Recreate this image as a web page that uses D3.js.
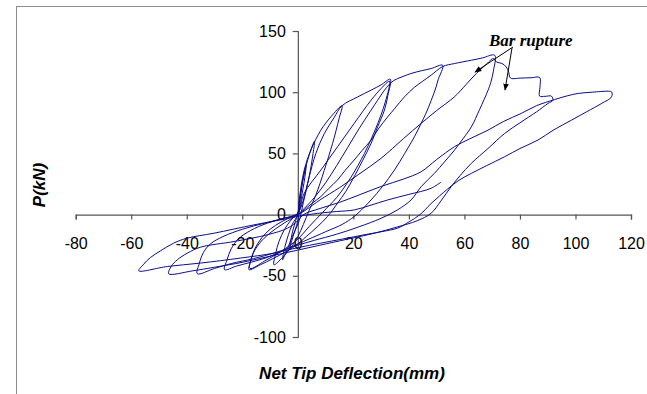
<!DOCTYPE html>
<html>
<head>
<meta charset="utf-8">
<script src="https://cdn.jsdelivr.net/npm/d3@7"></script>
<style>
  html, body { margin: 0; padding: 0; background: #fff; }
  svg { display: block; }
</style>
</head>
<body>
<div id="container"></div>
<script>
// tick values
const xTicks = [-80, -60, -40, -20, 0, 20, 40, 60, 80, 100, 120];
const yTicks = [-100, -50, 0, 50, 100, 150];

// load-deflection record, split per cycle [deflection mm, load kN]
const warmUp = [
  [0, 0], [1.5, 25], [3, 40], [2.5, 30], [1, 10], [0, -5], [-2, -20], [-3, -28],
  [-2, -15], [-0.5, -3], [0, 0], [2, 30], [4, 48], [6, 60], [5.5, 50], [4, 30],
  [2, 10], [0.5, -5], [-2, -18], [-4.5, -32], [-5.5, -37], [-4.5, -25], [-2, -8], [0, 0]
];
const cycle1 = [
  [0.5, 12], [2.3, 36.4], [4.7, 52.7], [8.3, 69], [11.9, 79.9], [15.9, 88.9],
  [14.8, 78], [12.5, 58], [9.5, 36], [6.5, 16], [4, 3], [2, -8], [0, -18], [-2.5, -27],
  [-5.5, -35], [-8.6, -41], [-8, -32], [-6.8, -22], [-5, -13], [-3, -6], [-1, -1], [0.5, 3]
];
const cycle2 = [
  [2, 12], [4, 30], [6.5, 50], [9.5, 66], [13, 79], [15.9, 88.9], [21.6, 96.2],
  [26.4, 101.7], [30, 106], [33.3, 110.6], [32.4, 97], [31.2, 85.4], [28.8, 72],
  [26.4, 58.2], [23.3, 44], [20.3, 31], [17.3, 19], [14.3, 9.3], [10.7, -1.6], [7, -10],
  [3, -18], [0, -24], [-4, -30], [-9, -36], [-13.5, -41], [-17.6, -45], [-17, -38],
  [-15.5, -28], [-13, -19], [-10, -12], [-6, -6], [-2.5, -2], [0, 1]
];
const cycle2b = [
  [2.3, 17.4], [8.3, 36.4], [14.3, 55.4], [20.3, 74.5], [26.4, 93.5], [30, 103],
  [33, 109], [31.5, 92], [28, 70], [24, 50], [19, 30], [14, 14], [9, 2], [4, -10],
  [0, -20], [-6, -30], [-12, -38], [-17.2, -44], [-16.5, -34], [-14, -24], [-10, -15],
  [-5, -7], [0, 0]
];
const cycle3 = [
  [2.3, 5], [6, 14], [10, 26], [14, 40], [18, 55], [22, 70], [26, 84], [29.5, 96],
  [32, 104], [34.5, 109.5], [37.5, 112.5], [40.8, 115.3], [44.5, 117.5], [48, 119.3],
  [52.2, 122], [50.5, 110], [49.8, 104.3], [48, 93], [46, 82],
  [44.4, 74.5], [42, 63.6], [38.5, 50], [34.8, 36.4], [30.5, 23], [26.4, 12], [23, 4],
  [20.3, -1.6], [16, -8], [10, -14], [4, -20], [0, -24], [-5, -29], [-11, -35],
  [-17, -39], [-22, -42], [-26.4, -45], [-25.5, -37], [-24, -28], [-21.5, -20],
  [-17, -13], [-11, -7], [-5, -3], [0, 0]
];
const cycle4 = [
  [2.3, 3.8], [5, 9], [8.3, 14.7], [11, 21], [14.3, 28.3], [17, 36], [20.3, 44.6],
  [23, 52], [26.4, 60.9], [29, 70], [32.4, 79.9], [35, 87], [38.4, 96.2], [42, 104],
  [45, 109], [48, 113.9], [52.2, 121], [56.4, 123.4], [62.5, 126.1], [66.5, 128], [70.9, 130.2],
  [70.5, 118], [69.5, 108], [68.5, 101.5], [65.5, 86], [62.5, 71.7], [59.5, 62],
  [56.4, 52.6], [52.8, 43], [49.2, 33.7], [44.4, 22.8], [40.8, 12], [36, 4], [30, -3],
  [22, -10], [14, -16], [6, -21], [0, -25], [-8, -31], [-16, -36], [-24, -40],
  [-30, -44], [-36.2, -48.3], [-35.5, -40], [-34, -31], [-31.5, -24], [-27, -18],
  [-20, -12], [-12, -7], [-5, -3], [0, 0]
];
const cycle5 = [
  [3, 4], [8, 12], [15, 22], [22, 33], [30, 46], [38, 62], [44.4, 74.5], [50, 85],
  [56.4, 96.2], [60.5, 106], [64.3, 115.3], [67.5, 122], [70.5, 127.5], [71.5, 124.7],
  [73.5, 123.5], [75.1, 120.6], [76, 116], [76.3, 112.5], [76.9, 111.2], [80, 111.5],
  [84, 111.8], [87.1, 112], [87.2, 104], [87.1, 96.8], [89, 96.6], [91.3, 96.8],
  [91.9, 93.5], [90.1, 90.8], [86, 84], [80, 75], [74.5, 66.3], [68.5, 54], [62.5, 41.9],
  [58.5, 32], [55.2, 22.8], [51.5, 11], [48, 1.1], [43, -5], [36, -10], [28, -15],
  [18, -20], [8, -25], [0, -29], [-10, -34], [-20, -39], [-30, -43], [-38, -46],
  [-46.5, -48.3], [-45.5, -42], [-43.4, -36.9], [-39.8, -31.5], [-35, -26.6],
  [-23, -22], [-11, -16.5], [-3.7, -11.1], [0, -5], [2, 0]
];
const cycle6 = [
  [8, 5], [15, 10], [22, 16], [30, 23], [38, 29], [44.4, 35], [50, 45], [56.4, 55.4],
  [62, 62], [68.5, 69], [74, 76], [80.5, 82.7], [86, 89], [92.5, 94], [97, 97],
  [101, 99], [106, 100], [111.8, 100.8], [113, 100.3], [113, 96.2], [109.4, 90.8],
  [104, 84], [98.6, 77.2], [92, 69], [86.5, 60.9], [80, 54], [74.5, 47.3], [68, 40],
  [62.5, 33.7], [58, 28], [54, 21], [48, 9], [44, 0], [40, -6], [36, -11], [30, -14],
  [23.9, -16.5], [16, -20], [8.3, -23.3], [0, -27], [-8.6, -31.5], [-20.6, -35.5],
  [-35, -39.6], [-47, -42.4], [-57.3, -45.9]
];
const finalReload = [
  [-55.5, -40.5], [-53.1, -35.1], [-49.5, -29.7], [-44.7, -23.3], [-39.8, -19.2],
  [-30.2, -15.2], [-15.8, -8.4], [-6.1, -4.3], [0, -1.5], [7, 1], [14, 2.5],
  [20.3, 3.8], [26, 7.5], [32.4, 12], [40, 16.5], [48, 21.5], [51.6, 26.6]
];

const W = 647, H = 394;

const svg = d3.select("#container")
  .append("svg")
  .attr("width", W)
  .attr("height", H);

svg.append("rect").attr("width", W).attr("height", H).attr("fill", "#fff");

// chart area border (runs off the right and bottom of the picture)
svg.append("rect")
  .attr("x", 16.5).attr("y", 6.5)
  .attr("width", 700).attr("height", 500)
  .attr("fill", "none")
  .attr("stroke", "#8c8c8c")
  .attr("stroke-width", 1);

const x = d3.scaleLinear().domain([-80, 120]).range([75.7, 631]);
const y = d3.scaleLinear().domain([-100, 150]).range([337, 31]);

const axisColor = "#555";
const plain = d => String(d); // keep the ascii hyphen like the original

// x axis through P = 0
const xAxis = svg.append("g")
  .attr("transform", `translate(0,${y(0)})`)
  .call(d3.axisBottom(x).tickValues(xTicks).tickSize(5).tickPadding(18).tickFormat(plain));

// y axis through deflection = 0
const yAxis = svg.append("g")
  .attr("transform", `translate(${x(0)},0)`)
  .call(d3.axisLeft(y).tickValues(yTicks).tickSize(5).tickPadding(7).tickFormat(plain));

[xAxis, yAxis].forEach(g => {
  g.select(".domain").attr("stroke", axisColor).attr("stroke-width", 1.2);
  g.selectAll(".tick line").attr("stroke", axisColor).attr("stroke-width", 1.2);
  g.selectAll(".tick text")
    .attr("fill", "#000")
    .style("font-family", "Arial, 'Liberation Sans', sans-serif")
    .style("font-size", "16px");
});

// the hysteresis trace
const record = [].concat(warmUp, cycle1, cycle2, cycle2b, cycle3, cycle4, cycle5, cycle6, finalReload);

const line = d3.line()
  .x(d => x(d[0]))
  .y(d => y(d[1]))
  .curve(d3.curveCatmullRom.alpha(0.5));

svg.append("path")
  .datum(record)
  .attr("d", line)
  .attr("fill", "none")
  .attr("stroke", "#0c0c8a")
  .attr("stroke-width", 1)
  .attr("stroke-linejoin", "round");

// axis titles
svg.append("text")
  .attr("x", 352).attr("y", 379)
  .attr("text-anchor", "middle")
  .style("font-family", "Arial, 'Liberation Sans', sans-serif")
  .style("font-size", "17px")
  .style("font-weight", "bold")
  .style("font-style", "italic")
  .text("Net Tip Deflection(mm)");

svg.append("text")
  .attr("transform", "translate(45,185) rotate(-90)")
  .attr("text-anchor", "middle")
  .style("font-family", "Arial, 'Liberation Sans', sans-serif")
  .style("font-size", "17px")
  .style("font-weight", "bold")
  .style("font-style", "italic")
  .text("P(kN)");

// annotation
svg.append("defs").append("marker")
  .attr("id", "head")
  .attr("viewBox", "0 0 10 10")
  .attr("refX", 9).attr("refY", 5)
  .attr("markerWidth", 7).attr("markerHeight", 7)
  .attr("orient", "auto")
  .append("path")
  .attr("d", "M0,1 L10,5 L0,9 Z")
  .attr("fill", "#000");

svg.append("text")
  .attr("x", 489).attr("y", 46)
  .style("font-family", "'Times New Roman', 'Liberation Serif', serif")
  .style("font-size", "17px")
  .style("font-weight", "bold")
  .style("font-style", "italic")
  .text("Bar rupture");

const arrowFrom = [[513, 47], [512, 48]];
const arrowTo = [[475, 72], [505, 90]];
arrowFrom.forEach((f, i) => {
  svg.append("line")
    .attr("x1", f[0]).attr("y1", f[1])
    .attr("x2", arrowTo[i][0]).attr("y2", arrowTo[i][1])
    .attr("stroke", "#000")
    .attr("stroke-width", 1)
    .attr("marker-end", "url(#head)");
});
</script>
</body>
</html>
